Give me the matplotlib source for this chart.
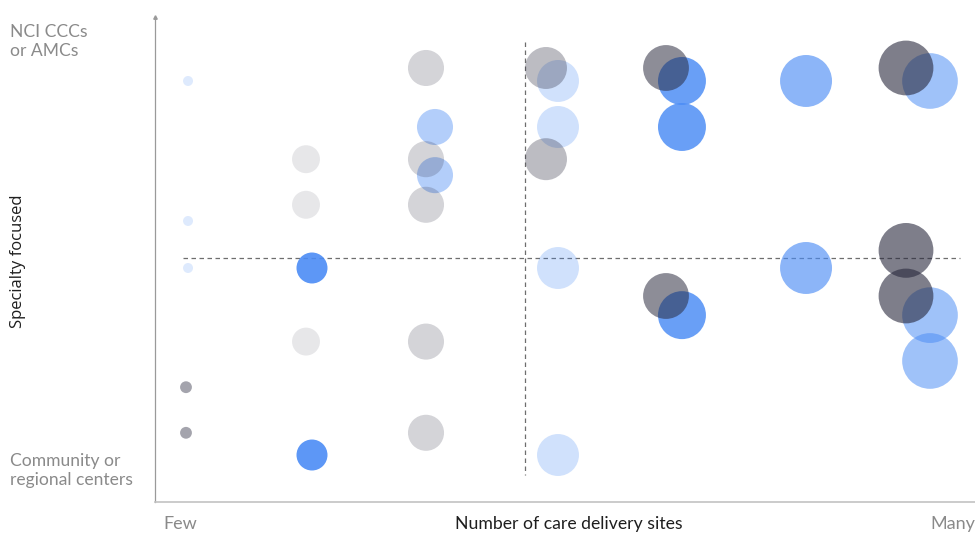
import matplotlib
matplotlib.use("Agg")
import matplotlib.pyplot as plt
from matplotlib.colors import to_rgba

# ---- data (column = sites bucket, row = specialty level) -------------------
gray_x = [0, 0, 1, 1, 1, 2, 2, 2, 2, 2, 3, 3, 4, 4, 6, 6, 6]
gray_y = [1, 0, 6, 5, 2, 8, 6, 5, 2, 0, 8, 6, 8, 3, 8, 4, 3]
gray_size = [1.4, 1.4, 7.8, 7.8, 7.8, 13, 13, 13, 13, 13, 17.6, 17.6, 21, 21, 30, 30, 30]
gray_opacity = [0.42, 0.42, 0.11, 0.11, 0.11, 0.2, 0.2, 0.2, 0.2, 0.2,
                0.31, 0.31, 0.53, 0.53, 0.6, 0.6, 0.6]

blue_x = [0.017, 0.017, 0.017, 1.05, 1.05, 2.075, 2.075, 3.1, 3.1, 3.1, 3.1,
          4.133, 4.133, 4.133, 5.167, 5.167, 6.2, 6.2, 6.2]
blue_y = [7.715, 4.645, 3.614, 3.614, -0.487, 6.706, 5.65, 7.715, 6.706, 3.614, -0.487,
          7.715, 6.706, 2.58, 7.715, 3.614, 7.715, 2.58, 1.575]
blue_size = [1, 1, 1, 9.6, 9.6, 13, 13, 17.6, 17.6, 17.6, 17.6,
             23, 23, 23, 27, 27, 31, 31, 31]
blue_opacity = [0.18, 0.18, 0.18, 0.9, 0.9, 0.42, 0.42, 0.26, 0.26, 0.26, 0.26,
                0.83, 0.83, 0.83, 0.64, 0.64, 0.53, 0.53, 0.53]

x_split = 2.825
y_split = 3.833

GRAY = "#28283c"
BLUE = "#4b8cf5"
LABEL = "#8a8a8a"
INK = "#1e1e1e"
FONT = ["Lato", "DejaVu Sans"]

W, H = 975, 534
fig = plt.figure(figsize=(W / 100, H / 100), dpi=100)
ax = fig.add_axes([155 / W, (H - 502) / H, 820 / W, 485 / H])
ax.set_xlim(-0.2583, 6.575)
ax.set_ylim(-1.5175, 9.118)

AREA = 51.84  # size value -> marker area (pt^2)

ax.scatter(blue_x, blue_y, s=[v * AREA for v in blue_size],
           c=[to_rgba(BLUE, a) for a in blue_opacity], linewidths=0, zorder=3)
ax.scatter(gray_x, gray_y, s=[v * AREA for v in gray_size],
           c=[to_rgba(GRAY, a) for a in gray_opacity], linewidths=0, zorder=4)

# quadrant dividers
ax.plot([x_split, x_split], [8.57, -0.925], color="#6e6e6e", lw=0.9,
        dashes=(3.6, 2.8), zorder=2)
ax.plot([-0.025, 6.45], [y_split, y_split], color="#6e6e6e", lw=0.9,
        dashes=(3.6, 2.8), zorder=2)

ax.set_xticks([])
ax.set_yticks([])
for side in ("top", "right"):
    ax.spines[side].set_visible(False)
ax.spines["left"].set_color("#9a9a9a")
ax.spines["left"].set_linewidth(0.9)
ax.spines["bottom"].set_color("#c2c2c2")
ax.spines["bottom"].set_linewidth(1.2)
ax.plot([0], [1], transform=ax.transAxes, marker="^", ms=2.5,
        color="#9a9a9a", clip_on=False)


def label(px, py, s, family=FONT, **kw):
    fig.text(px / W, 1 - py / H, s, family=family, **kw)


label(10, 24, "NCI CCCs\nor AMCs", size=12.6, color=LABEL, ha="left", va="top",
      linespacing=1.26)
label(10, 453, "Community or\nregional centers", size=12.6, color=LABEL, ha="left",
      va="top", linespacing=1.26)
label(18, 261, "Specialty focused", family=["Open Sans", "DejaVu Sans"], size=12,
      color=INK, rotation=90, ha="center", va="center")
label(163, 524, "Few", size=13, color=LABEL, ha="left", va="center")
label(569, 524, "Number of care delivery sites", size=12.7, color=INK,
      ha="center", va="center")
label(975, 524, "Many", size=13, color=LABEL, ha="right", va="center")

fig.savefig("out.png", dpi=100, facecolor="white")
